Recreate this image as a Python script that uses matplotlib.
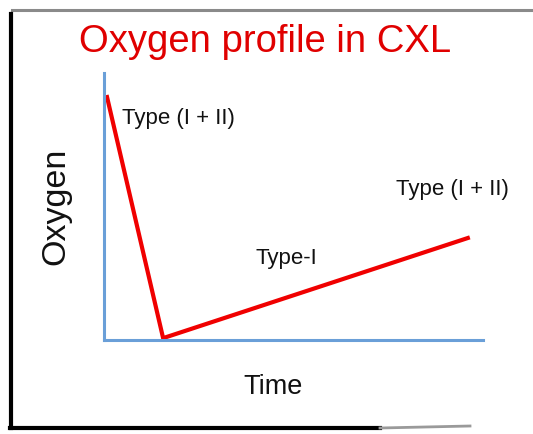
import matplotlib.pyplot as plt
from matplotlib.lines import Line2D

# oxygen profile (arbitrary units)
time = [0.08, 1.56, 9.6]
oxygen = [9.1, 0.07, 3.82]

labels = ["Type (I + II)", "Type-I", "Type (I + II)"]
label_x = [0.47, 4.82, 7.70]
label_y = [8.31, 3.05, 5.62]
label_ha = ["left", "center", "left"]

plt.rcParams['font.family'] = ['Liberation Sans', 'DejaVu Sans']

fig = plt.figure(figsize=(5.33, 4.34), dpi=100)
fig.patch.set_facecolor('white')

# frame around the slide
fig.add_artist(Line2D([12/533, 1.0], [1-10/434, 1-10/434], color='#8a8a8a', lw=2.2))
fig.add_artist(Line2D([11/533, 11/533], [1-14/434, 1-428/434], color='black', lw=3))
fig.add_artist(Line2D([10/533, 380/533], [1-428/434, 1-428/434], color='black', lw=3))
fig.add_artist(Line2D([380/533, 470/533], [1-428/434, 1-426/434], color='#9a9a9a', lw=2))

ax = fig.add_axes([104/533, 1-340/434, 379/533, 267/434])
ax.plot(time, oxygen, color='#f00000', lw=3, solid_joinstyle='miter', clip_on=False)
ax.set_xlim(0, 10)
ax.set_ylim(0, 10)

for s in ['top', 'right']:
    ax.spines[s].set_visible(False)
for s in ['left', 'bottom']:
    ax.spines[s].set_color('#6a9fd8')
    ax.spines[s].set_linewidth(2.2)
ax.set_xticks([])
ax.set_yticks([])

for t, x, y, ha in zip(labels, label_x, label_y, label_ha):
    ax.text(x, y, t, fontsize=16, ha=ha, va='center', color='#111111')

ax.set_xlabel('Time', fontsize=19.5, color='#111111')
ax.xaxis.set_label_coords((273-104)/379, -(387-340)/267)
ax.xaxis.label.set_va('center')
ax.set_ylabel('Oxygen', fontsize=24.5, color='#111111')
ax.yaxis.set_label_coords(-(104-56)/379, (340-206)/267)
ax.yaxis.label.set_va('center')

fig.text(265/533, 1-42/434, 'Oxygen profile in CXL', fontsize=27.5,
         color='#e00000', ha='center', va='center')

plt.savefig('out.png', dpi=100)
